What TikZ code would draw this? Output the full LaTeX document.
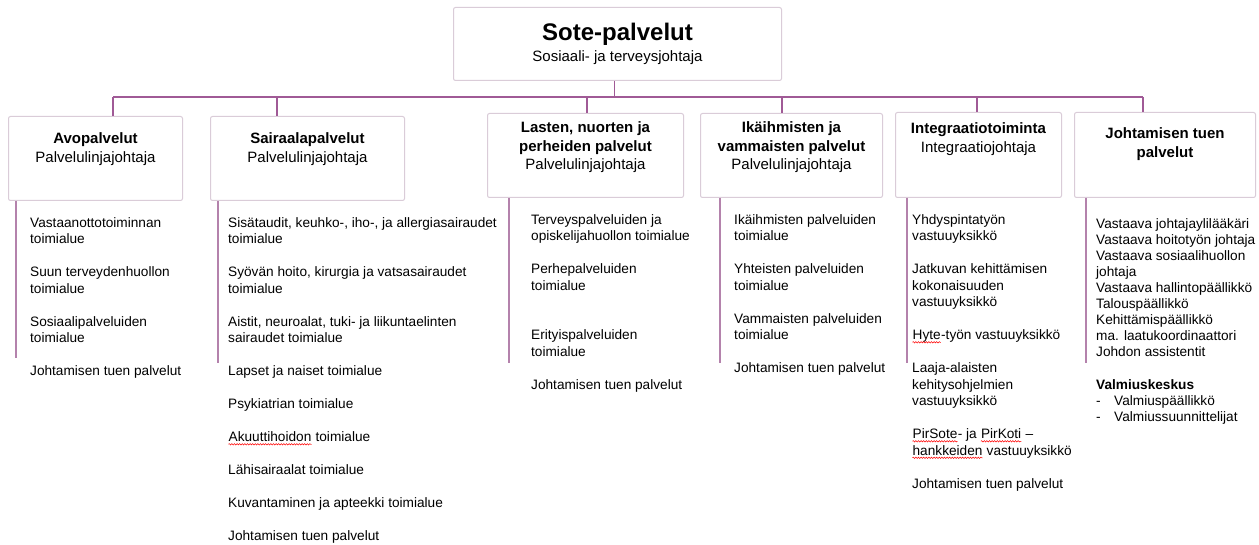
\documentclass[tikz,border=0pt]{standalone}
\usepackage{fontspec}
\setmainfont{Liberation Sans}
\usetikzlibrary{positioning,decorations.pathmorphing}

\definecolor{connline}{RGB}{160,90,150}
\definecolor{boxline}{RGB}{218,204,216}
\definecolor{railline}{RGB}{180,130,172}

\newcommand\hstrut{\rule{0pt}{13pt}}
\newcommand\lstrut{\rule{0pt}{12pt}}
\newcommand\typo[1]{\tikz[baseline=(w.base)]{\node[inner sep=0pt] (w) {#1};
	\draw[red, line width=0.5pt, decorate, decoration={snake, amplitude=0.7pt, segment length=2.6pt}]
		([yshift=-2.6pt]w.base west) -- ([yshift=-2.6pt]w.base east);}}

\tikzset{
  unit/.style={draw=boxline, line width=1pt, rounded corners=2pt, fill=white, align=center},
  head/.style={anchor=north, inner sep=0pt, align=center, font=\fontsize{15}{18.5}\selectfont},
  item/.style={anchor=north west, inner sep=0pt, align=left, font=\fontsize{13.65}{16.5}\selectfont},
  conn/.style={draw=connline, line width=1.3pt},
  rail/.style={draw=railline, line width=1.6pt}
}

\begin{document}
\begin{tikzpicture}[x=1pt, y=-1pt]
	\useasboundingbox[fill=white] (0,0) rectangle (1259,545);

	% ylin taso
	\node[unit, minimum width=328pt, minimum height=73pt, anchor=north west, font=\fontsize{15}{21}\selectfont] (sote) at (453,7)
		{{\fontsize{24}{24}\selectfont\bfseries Sote-palvelut}\\Sosiaali- ja terveysjohtaja};

	% palvelulinjat
	\node[unit, minimum width=174pt, minimum height=84pt, anchor=north west] (avo) at (8,116) {};
	\node[unit, minimum width=194pt, minimum height=84pt, anchor=north west] (sair) at (210,116) {};
	\node[unit, minimum width=196pt, minimum height=84pt, anchor=north west] (last) at (487,113) {};
	\node[unit, minimum width=182pt, minimum height=84pt, anchor=north west] (ika) at (700,113) {};
	\node[unit, minimum width=166pt, minimum height=85pt, anchor=north west] (int) at (895,112) {};
	\node[unit, minimum width=181pt, minimum height=85pt, anchor=north west] (joh) at (1074,112) {};

	\node[head, below=14.4pt of avo.north] (avoT) {\hstrut\textbf{Avopalvelut}\\Palvelulinjajohtaja};
	\node[head, below=14.4pt of sair.north] (sairT) {\hstrut\textbf{Sairaalapalvelut}\\Palvelulinjajohtaja};
	\node[head, below=6.4pt of last.north] (lastT) {\hstrut\textbf{Lasten, nuorten ja}\\\textbf{perheiden palvelut}\\Palvelulinjajohtaja};
	\node[head, below=6.4pt of ika.north] (ikaT) {\hstrut\textbf{Ikäihmisten ja}\\\textbf{vammaisten palvelut}\\Palvelulinjajohtaja};
	\node[head, below=8.4pt of int.north] (intT) {\hstrut\textbf{Integraatiotoiminta}\\Integraatiojohtaja};
	\node[head, below=13.4pt of joh.north] (johT) {\hstrut\textbf{Johtamisen tuen}\\\textbf{palvelut}};

	% liitokset
	\coordinate (busL) at (113,97);
	\coordinate (busR) at (1143,97);
	\coordinate (soteC) at ([xshift=-3pt]sote.south);
	\draw[conn] (busL) -- (busR);
	\draw[conn] (soteC) -- (soteC |- busL);
	\foreach \b/\x in {avo/113, sair/277, last/587, ika/782, int/977, joh/1143}{
		\coordinate (bus-\b) at (\x,97);
		\draw[conn] (bus-\b) -- (bus-\b |- \b.north);
	}

	% toimialueet
	\foreach \b/\x/\len in {avo/16/157, sair/218/162, last/509/165, ika/720/165, int/907/165, joh/1086/165}{
		\coordinate (rail-\b) at (\x,0);
		\draw[rail] (rail-\b |- \b.south) -- ++(0,\len);
	}

	\node[item] (avoL) at (30,215) {\lstrut Vastaanottotoiminnan\\toimialue\\[16.5pt]
		Suun terveydenhuollon\\toimialue\\[16.5pt]
		Sosiaalipalveluiden\\toimialue\\[16.5pt]
		Johtamisen tuen palvelut};
	\node[item] (sairL) at (228,215) {\lstrut Sisätaudit, keuhko-, iho-, ja allergiasairaudet\\toimialue\\[16.5pt]
		Syövän hoito, kirurgia ja vatsasairaudet\\toimialue\\[16.5pt]
		Aistit, neuroalat, tuki- ja liikuntaelinten\\sairaudet toimialue\\[16.5pt]
		Lapset ja naiset toimialue\\[16.5pt]
		Psykiatrian toimialue\\[16.5pt]
		\typo{Akuuttihoidon} toimialue\\[16.5pt]
		Lähisairaalat toimialue\\[16.5pt]
		Kuvantaminen ja apteekki toimialue\\[16.5pt]
		Johtamisen tuen palvelut};
	\node[item] (lastL) at (531,212) {\lstrut Terveyspalveluiden ja\\opiskelijahuollon toimialue\\[16.5pt]
		Perhepalveluiden\\toimialue\\[33pt]
		Erityispalveluiden\\toimialue\\[16.5pt]
		Johtamisen tuen palvelut};
	\node[item] (ikaL) at (734,212) {\lstrut Ikäihmisten palveluiden\\toimialue\\[16.5pt]
		Yhteisten palveluiden\\toimialue\\[16.5pt]
		Vammaisten palveluiden\\toimialue\\[16.5pt]
		Johtamisen tuen palvelut};
	\node[item] (intL) at (912,212) {\lstrut Yhdyspintatyön\\vastuuyksikkö\\[16.5pt]
		Jatkuvan kehittämisen\\kokonaisuuden\\vastuuyksikkö\\[16.5pt]
		\typo{Hyte}-työn vastuuyksikkö\\[16.5pt]
		Laaja-alaisten\\kehitysohjelmien\\vastuuyksikkö\\[16.5pt]
		\typo{PirSote}- ja \typo{PirKoti} –\\\typo{hankkeiden} vastuuyksikkö\\[16.5pt]
		Johtamisen tuen palvelut};
	\node[item, font=\fontsize{13.65}{16}\selectfont] (johL) at (1096,216) {\lstrut Vastaava johtajaylilääkäri\\Vastaava hoitotyön johtaja\\Vastaava sosiaalihuollon\\johtaja\\
		Vastaava hallintopäällikkö\\Talouspäällikkö\\Kehittämispäällikkö\\ma. laatukoordinaattori\\Johdon assistentit\\[17pt]
		\textbf{Valmiuskeskus}\\\makebox[18pt][l]{-}Valmiuspäällikkö\\\makebox[18pt][l]{-}Valmiussuunnittelijat};
\end{tikzpicture}
\end{document}
